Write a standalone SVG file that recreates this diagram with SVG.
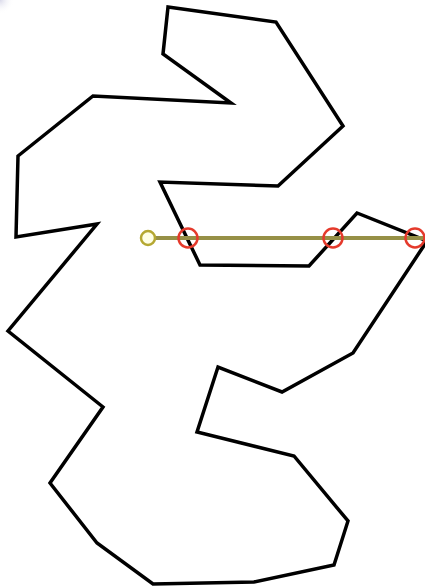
<svg xmlns="http://www.w3.org/2000/svg" width="425" height="588" viewBox="0 0 425 588">
<defs>
<radialGradient id="corner" cx="0" cy="0" r="1" gradientUnits="userSpaceOnUse" gradientTransform="scale(14)">
<stop offset="0" stop-color="#c8c8e0" stop-opacity="0.7"/>
<stop offset="1" stop-color="#ffffff" stop-opacity="0"/>
</radialGradient>
<style>
.poly{fill:none;stroke:#000;stroke-width:3.5;stroke-linejoin:miter}
.ray{stroke:#969046;stroke-width:4}
.hit{fill:none;stroke:#e53a2c;stroke-width:2.5}
.origin{fill:#ffffe6;stroke:#b5a832;stroke-width:2.5}
</style>
</defs>
<rect width="425" height="588" fill="#fff"/>
<rect width="20" height="20" fill="url(#corner)"/>
<g id="polygon">
<polygon class="poly" points="168,7 276,22 343,126 278,186 160,182 200,265 309,266 357,213 427,241 353,353 282,392 218,367 197,432 294,456 348,521 334,565 254,582 153,584 97,543 50,483 103,407 8,331 97,224 16,237 18,156 93,96 231,103 163,54"/>
</g>
<g id="connectors">
<line class="ray" x1="148" y1="238" x2="425" y2="238"/>
</g>
<g id="origin">
<circle class="origin" cx="148" cy="238" r="7"/>
</g>
<g id="hits">
<circle class="hit" cx="188" cy="238" r="9.5"/>
<circle class="hit" cx="333" cy="238" r="9.5"/>
<circle class="hit" cx="415" cy="238" r="9.5"/>
</g>
</svg>
